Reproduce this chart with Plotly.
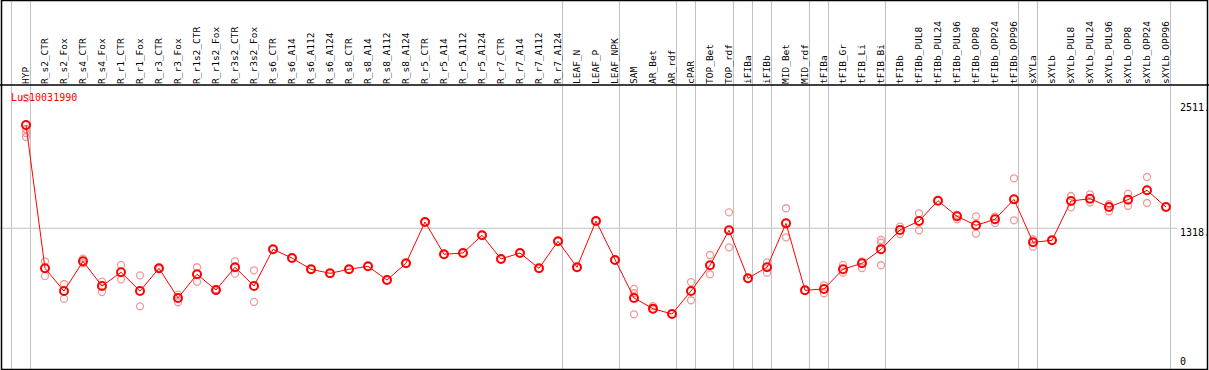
import plotly.graph_objects as go

title_text = "Lus10031990"

categories = [
    "HYP", "R_s2_CTR", "R_s2_Fox", "R_s4_CTR", "R_s4_Fox", "R_r1_CTR", "R_r1_Fox",
    "R_r3_CTR", "R_r3_Fox", "R_r1s2_CTR", "R_r1s2_Fox", "R_r3s2_CTR", "R_r3s2_Fox",
    "R_s6_CTR", "R_s6_A14", "R_s6_A112", "R_s6_A124", "R_s8_CTR", "R_s8_A14",
    "R_s8_A112", "R_s8_A124", "R_r5_CTR", "R_r5_A14", "R_r5_A112", "R_r5_A124",
    "R_r7_CTR", "R_r7_A14", "R_r7_A112", "R_r7_A124", "LEAF_N", "LEAF_P", "LEAF_NPK",
    "SAM", "AR_Bet", "AR_rdf", "cPAR", "TOP_Bet", "TOP_rdf", "iFIBa", "iFIBb",
    "MID_Bet", "MID_rdf", "tFIBa", "tFIB_Gr", "tFIB_Li", "tFIB_Bi", "tFIBb",
    "tFIBb_PUL8", "tFIBb_PUL24", "tFIBb_PUL96", "tFIBb_OPP8", "tFIBb_OPP24",
    "tFIBb_OPP96", "sXYLa", "sXYLb", "sXYLb_PUL8", "sXYLb_PUL24", "sXYLb_PUL96",
    "sXYLb_OPP8", "sXYLb_OPP24", "sXYLb_OPP96",
]

means = [
    2303, 936, 719, 1003, 767, 898, 719, 936, 653, 879, 729, 946, 767,
    1117, 1034, 927, 888, 927, 955, 824, 984, 1378, 1070, 1082, 1251,
    1025, 1082, 936, 1194, 946, 1387, 1015,
    653, 551, 500, 719, 965, 1299, 841, 946, 1365, 726, 739, 927, 984, 1117, 1302,
    1387, 1581, 1432, 1346, 1404, 1594, 1184, 1203, 1578, 1600, 1521, 1591, 1680, 1521,
]

replicates = [
    [2561, 2265, 2227, 2189], [1003, 863], [786, 646], [1028, 984], [808, 710],
    [968, 831], [869, 573], [942, 929], [684, 612], [946, 808], [736, 719],
    [1003, 885], [917, 615],
    [1117], [1034], [927], [888], [927], [955], [824], [984], [1378], [1070], [1082], [1251],
    [1025], [1082], [936], [1194], [946], [1387], [1015],
    [739, 698, 497], [576, 545], [500], [805, 631], [1063, 879], [1470, 1136], [841],
    [993, 894], [1509, 1232], [726], [774, 698], [968, 894], [1003, 939],
    [1206, 1180, 965], [1333, 1263], [1461, 1299], [1581], [1445, 1404], [1432, 1266],
    [1428, 1368], [1795, 1394], [1213, 1142], [1203], [1626, 1518], [1642, 1566],
    [1547, 1480], [1648, 1533], [1807, 1559], [1521],
]

group_breaks = [-1, 0, 28, 31, 34, 35, 37, 38, 39, 41, 42, 45, 52, 53, 60]
y_ticks = [0, 1318, 2511]
y_tick_text = ["0", "1318.", "2511."]

W, H = 1209, 370
ML, MR, MT, MB = 2, 2, 85, 1
PW = W - ML - MR
PH = H - MT - MB


def px_x(p):
    return (p - ML) / PW


def px_y(p):
    return (H - MB - p) / PH


FONT = "DejaVu Sans Mono"

rep_x, rep_y = [], []
for c, reps in zip(categories, replicates):
    for v in reps:
        rep_x.append(c)
        rep_y.append(v)

fig = go.Figure()
fig.add_trace(go.Scatter(
    x=rep_x, y=rep_y, mode="markers",
    marker=dict(symbol="circle-open", size=7, color="#f09a9a", line=dict(width=1.3, color="#f09a9a")),
    hoverinfo="skip", showlegend=False,
))
fig.add_trace(go.Scatter(
    x=categories, y=means, mode="lines+markers",
    line=dict(color="#ff0000", width=1),
    marker=dict(symbol="circle-open", size=8, color="#ff0000", line=dict(width=2, color="#ff0000")),
    showlegend=False,
))

shapes = []
for b in group_breaks:
    shapes.append(dict(type="line", xref="x", yref="paper", x0=b + 0.235, x1=b + 0.235,
                       y0=0, y1=px_y(0), line=dict(color="#c0c0c0", width=1), layer="below"))
# horizontal reference line at middle tick
shapes.append(dict(type="line", xref="paper", yref="y", x0=px_x(0), x1=px_x(1177),
                   y0=y_ticks[1], y1=y_ticks[1], line=dict(color="#c0c0c0", width=1), layer="below"))
# separator between label band and plot
shapes.append(dict(type="line", xref="paper", yref="paper", x0=px_x(0), x1=px_x(W),
                   y0=1, y1=1, line=dict(color="black", width=1.5)))
# outer border
shapes.append(dict(type="rect", xref="paper", yref="paper", x0=px_x(1.5), x1=px_x(1207.5),
                   y0=px_y(369.5), y1=px_y(0.5), line=dict(color="black", width=1.5)))

annotations = [dict(text=title_text, xref="paper", yref="paper", x=px_x(9), y=px_y(97),
                    xanchor="left", yanchor="middle", showarrow=False,
                    font=dict(family=FONT, size=10, color="#ff0000"))]
shifts = [5, -4, -4]
for v, t, s in zip(y_ticks, y_tick_text, shifts):
    annotations.append(dict(text=t, xref="paper", yref="y", x=px_x(1178), y=v, yshift=s,
                            xanchor="left", yanchor="middle", showarrow=False,
                            font=dict(family=FONT, size=10, color="black")))

fig.update_layout(
    width=W, height=H,
    margin=dict(l=ML, r=MR, t=MT, b=MB, pad=0),
    paper_bgcolor="white", plot_bgcolor="white",
    xaxis=dict(type="category", categoryorder="array", categoryarray=categories,
               range=[-24 / 19, 1181 / 19], side="top", tickangle=-90,
               tickfont=dict(family=FONT, size=9.5, color="black"),
               showgrid=False, zeroline=False, showline=False, ticks="",
               ticklabelstandoff=0, automargin=False),
    yaxis=dict(range=[-24.8, 2685], showgrid=False, zeroline=False, showline=False,
               showticklabels=False, ticks="", automargin=False),
    shapes=shapes, annotations=annotations,
    font=dict(family=FONT),
)

fig.write_html("out.html", config={"displayModeBar": False},
               post_script="document.body.style.margin='0';document.body.style.overflow='hidden';")
